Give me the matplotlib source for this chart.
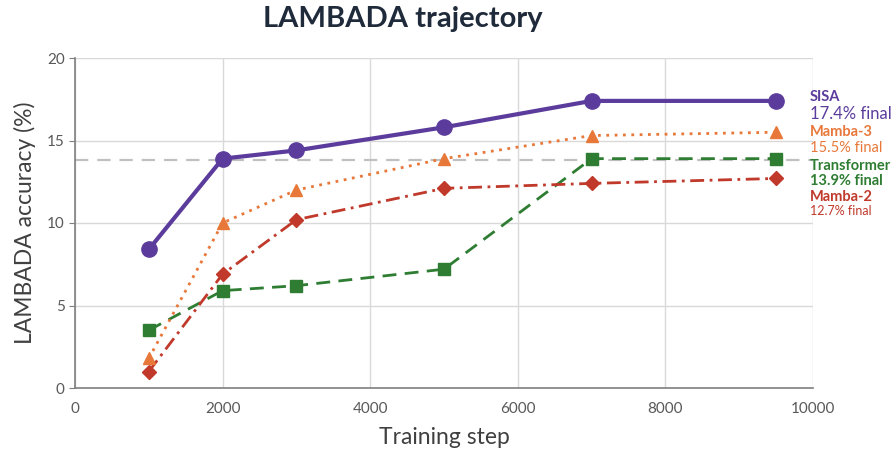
import matplotlib
matplotlib.use("Agg")
import matplotlib.pyplot as plt

plt.rcParams['font.family'] = ['Lato', 'DejaVu Sans']

steps = [1000, 2000, 3000, 5000, 7000, 9500]
sisa = [8.4, 13.9, 14.4, 15.8, 17.4, 17.4]
mamba3 = [1.8, 10.0, 12.0, 13.9, 15.3, 15.5]
transformer = [3.5, 5.9, 6.2, 7.2, 13.9, 13.9]
mamba2 = [1.0, 6.9, 10.2, 12.1, 12.4, 12.7]
ref_line = 13.8

x_ticks = [0, 2000, 4000, 6000, 8000, 10000]
y_ticks = [0, 5, 10, 15, 20]

c_sisa = '#5b3c9c'
c_m3 = '#e8783a'
c_tr = '#2e7d32'
c_m2 = '#c0392b'

fig = plt.figure(figsize=(8.92, 4.58), dpi=100)
ax = fig.add_axes([75 / 892, 1 - 388 / 458, 738 / 892, 330 / 458])

ax.axhline(ref_line, color='#c0c0c0', lw=1.6, ls=(0, (6, 4)), zorder=1)

ax.plot(steps, transformer, color=c_tr, lw=2, ls=(0, (5, 3)), marker='s', ms=9, zorder=3)
ax.plot(steps, mamba2, color=c_m2, lw=2, ls=(0, (5, 2, 1, 2)), marker='D', ms=7, zorder=3)
ax.plot(steps, mamba3, color=c_m3, lw=2, ls=(0, (1, 2)), marker='^', ms=9, zorder=4)
ax.plot(steps, sisa, color=c_sisa, lw=3, marker='o', ms=11, zorder=5)

ax.set_xlim(0, 10000)
ax.set_ylim(0, 20)
ax.set_xticks(x_ticks)
ax.set_yticks(y_ticks)
ax.grid(True, color='#d9d9d9', lw=1)
ax.set_axisbelow(True)
for s in ['top', 'right']:
    ax.spines[s].set_visible(False)
for s in ['left', 'bottom']:
    ax.spines[s].set_color('#7f7f7f')
    ax.spines[s].set_linewidth(1.2)
ax.tick_params(axis='y', colors='#7f7f7f', labelcolor='#595959', labelsize=11, length=4)
ax.tick_params(axis='x', length=0, labelcolor='#595959', labelsize=11, pad=10)

ax.set_xlabel('Training step', fontsize=16.5, color='#404040', labelpad=8)
ax.set_ylabel('LAMBADA accuracy (%)', fontsize=16.5, color='#404040', labelpad=8)
fig.text(403 / 892, 1 - 19 / 458, 'LAMBADA trajectory', ha='center', va='center',
         fontsize=21, fontweight='bold', color='#1f2a3a')

tx = 810 / 892
def lab(ypix, s, color, size, weight):
    fig.text(tx, 1 - ypix / 458, s, ha='left', va='center', fontsize=size,
             color=color, fontweight=weight)

lab(97, 'SISA', c_sisa, 10.5, 'bold')
lab(114, '17.4% final', c_sisa, 12, 'normal')
lab(132, 'Mamba-3', c_m3, 10.5, 'bold')
lab(148, '15.5% final', c_m3, 10.5, 'normal')
lab(166, 'Transformer', c_tr, 10.5, 'bold')
lab(181, '13.9% final', c_tr, 10.5, 'bold')
lab(197, 'Mamba-2', c_m2, 10.5, 'bold')
lab(211, '12.7% final', c_m2, 9, 'normal')

fig.savefig('out.png', dpi=100)
